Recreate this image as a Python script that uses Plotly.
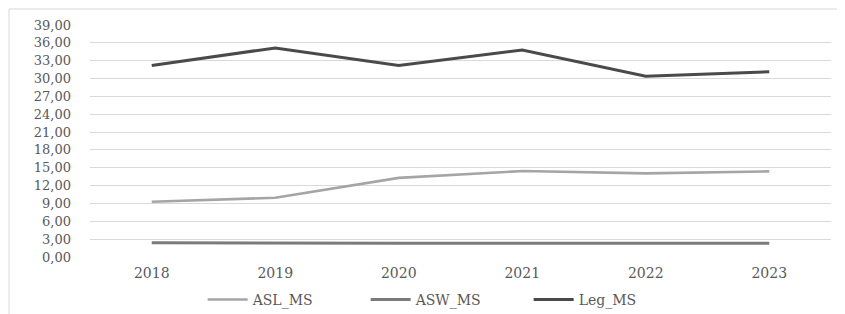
import plotly.graph_objects as go

years = ["2018", "2019", "2020", "2021", "2022", "2023"]
asl_ms = [9.3, 9.95, 13.3, 14.45, 14.05, 14.4]
asw_ms = [2.4, 2.3, 2.3, 2.3, 2.3, 2.3]
leg_ms = [32.2, 35.15, 32.2, 34.8, 30.4, 31.15]
y_ticks = [0, 3, 6, 9, 12, 15, 18, 21, 24, 27, 30, 33, 36, 39]
y_tick_labels = [f"{v:.2f}".replace(".", ",") for v in y_ticks]

FONT = "DejaVu Serif"
TXT = "#595959"

fig = go.Figure()
fig.add_trace(go.Scatter(x=years, y=asl_ms, name="ASL_MS", mode="lines",
                         line=dict(color="#a5a5a5", width=2.6)))
fig.add_trace(go.Scatter(x=years, y=asw_ms, name="ASW_MS", mode="lines",
                         line=dict(color="#7b7b7b", width=3)))
fig.add_trace(go.Scatter(x=years, y=leg_ms, name="Leg_MS", mode="lines",
                         line=dict(color="#4a4a4a", width=3)))

# page body has an 8px default margin, so the figure is 8px smaller
fig.update_layout(
    width=837, height=306,
    margin=dict(l=82, r=14, t=17, b=57, autoexpand=False),
    paper_bgcolor="white", plot_bgcolor="white",
    font=dict(family=FONT, size=13, color=TXT),
    showlegend=True,
    legend=dict(orientation="h", x=0.482, xanchor="center", y=-0.185, yanchor="middle",
                font=dict(family=FONT, size=14, color=TXT),
                entrywidth=108, entrywidthmode="pixels", itemwidth=40),
    shapes=[dict(type="rect", xref="paper", yref="paper",
                 x0=-0.1093, x1=1.1, y0=-0.3, y1=1.069,
                 line=dict(color="#d9d9d9", width=1), fillcolor="rgba(0,0,0,0)",
                 layer="below")],
)
fig.update_xaxes(type="category", range=[-0.5, 5.5], automargin=False,
                 showgrid=False, zeroline=False, showline=False,
                 ticks="", tickfont=dict(family=FONT, size=14, color=TXT),
                 ticklabelstandoff=6)
fig.update_yaxes(range=[0, 39], tickvals=y_ticks, ticktext=y_tick_labels, automargin=False,
                 showgrid=True, gridcolor="#d9d9d9", gridwidth=1,
                 zeroline=False, showline=False, ticks="",
                 tickfont=dict(family=FONT, size=13, color=TXT),
                 ticklabelstandoff=18)

fig.write_html("out.html")
